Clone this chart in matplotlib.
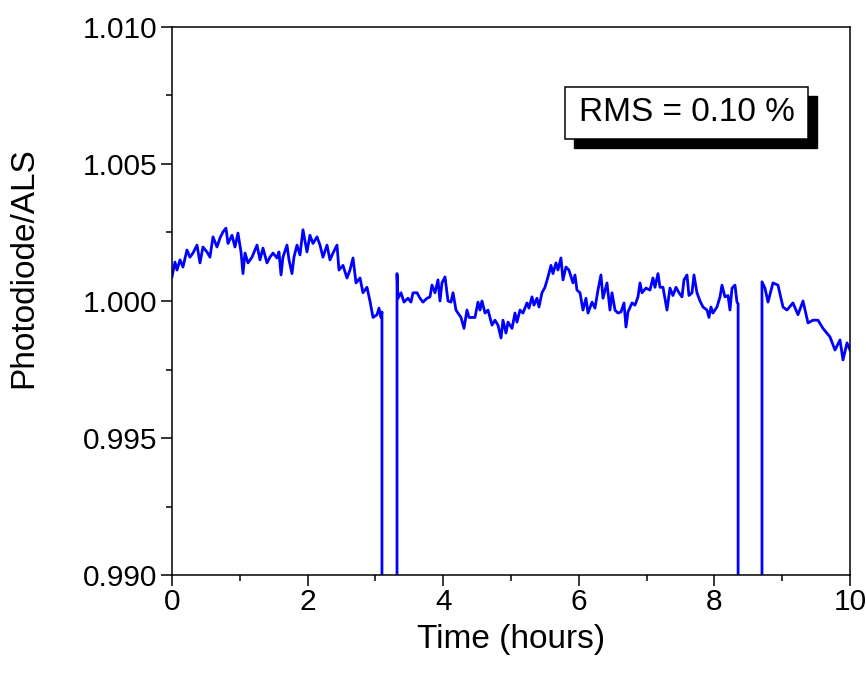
import matplotlib
matplotlib.use("Agg")
import matplotlib.pyplot as plt
from matplotlib.patches import Rectangle

plt.rcParams["font.family"] = ["Liberation Sans", "DejaVu Sans"]

# time in hours, photodiode/ALS ratio
hours = [
    0.000, 0.044, 0.074, 0.118, 0.162, 0.221, 0.265, 0.310, 0.369, 0.413,
    0.457, 0.516, 0.560, 0.605, 0.664, 0.708, 0.752, 0.796, 0.826, 0.885,
    0.929, 0.973, 1.018, 1.047, 1.077, 1.121, 1.180, 1.254, 1.298, 1.342,
    1.401, 1.445, 1.490, 1.549, 1.578, 1.608, 1.637, 1.696, 1.726, 1.770,
    1.799, 1.844, 1.888, 1.932, 1.991, 2.035, 2.080, 2.139, 2.183, 2.227,
    2.286, 2.330, 2.375, 2.434, 2.463, 2.522, 2.581, 2.625, 2.670, 2.714,
    2.773, 2.817, 2.876, 2.920, 2.965, 3.024, 3.053, 3.083, 3.097,
    3.097, 3.319, 3.319,
    3.333, 3.378, 3.422, 3.481, 3.525, 3.555, 3.614, 3.658, 3.702, 3.761,
    3.805, 3.835, 3.879, 3.923, 3.953, 3.982, 4.027, 4.071, 4.115, 4.145,
    4.189, 4.218, 4.263, 4.307, 4.351, 4.381, 4.425, 4.469, 4.513, 4.543,
    4.572, 4.617, 4.661, 4.720, 4.764, 4.808, 4.853, 4.882, 4.926, 4.956,
    5.015, 5.059, 5.088, 5.133, 5.177, 5.236, 5.265, 5.310, 5.339, 5.383,
    5.413, 5.457, 5.501, 5.546, 5.590, 5.619, 5.664, 5.693, 5.737, 5.767,
    5.811, 5.855, 5.914, 5.944, 5.973, 6.018, 6.062, 6.106, 6.136, 6.195,
    6.239, 6.283, 6.327, 6.357, 6.416, 6.445, 6.460, 6.490, 6.534, 6.578,
    6.622, 6.667, 6.696, 6.726, 6.785, 6.829, 6.873, 6.903, 6.932, 6.991,
    7.050, 7.094, 7.124, 7.168, 7.198, 7.242, 7.301, 7.345, 7.389, 7.434,
    7.478, 7.522, 7.552, 7.596, 7.625, 7.670, 7.699, 7.743, 7.788, 7.832,
    7.891, 7.920, 7.950, 7.979, 8.038, 8.083, 8.112, 8.156, 8.201, 8.230,
    8.260, 8.304, 8.333, 8.350,
    8.350, 8.702, 8.702,
    8.746, 8.791, 8.864, 8.938, 9.012, 9.071, 9.159, 9.233, 9.307, 9.381,
    9.454, 9.528, 9.602, 9.705, 9.779, 9.853, 9.897, 9.956, 10.000,
]
ratio = [
    1.00088, 1.00142, 1.00113, 1.00150, 1.00124, 1.00186, 1.00160, 1.00175, 1.00204, 1.00139,
    1.00197, 1.00179, 1.00160, 1.00234, 1.00197, 1.00230, 1.00252, 1.00266, 1.00210, 1.00240,
    1.00197, 1.00248, 1.00179, 1.00100, 1.00175, 1.00139, 1.00160, 1.00204, 1.00150, 1.00193,
    1.00139, 1.00160, 1.00175, 1.00157, 1.00179, 1.00095, 1.00160, 1.00204, 1.00150, 1.00100,
    1.00160, 1.00204, 1.00168, 1.00260, 1.00179, 1.00240, 1.00210, 1.00234, 1.00204, 1.00160,
    1.00204, 1.00150, 1.00175, 1.00204, 1.00113, 1.00130, 1.00084, 1.00113, 1.00157, 1.00066,
    1.00084, 1.00030, 1.00050, 1.00000, 0.99940, 0.99950, 0.99974, 0.99940, 0.99960,
    0.98500, 0.98500, 1.00100,
    1.00010, 1.00030, 0.99996, 1.00010, 0.99996, 1.00030, 1.00030, 1.00010, 0.99996, 1.00010,
    1.00015, 1.00058, 1.00030, 1.00077, 1.00000, 1.00066, 1.00088, 1.00000, 0.99996, 1.00030,
    0.99967, 0.99956, 0.99940, 0.99900, 0.99967, 0.99940, 0.99940, 0.99940, 0.99996, 0.99967,
    1.00000, 0.99956, 0.99967, 0.99912, 0.99930, 0.99912, 0.99865, 0.99930, 0.99883, 0.99923,
    0.99900, 0.99956, 0.99923, 0.99967, 0.99956, 0.99993, 0.99974, 1.00015, 0.99985, 1.00010,
    0.99978, 1.00030, 1.00050, 1.00088, 1.00130, 1.00100, 1.00139, 1.00113, 1.00157, 1.00077,
    1.00124, 1.00113, 1.00066, 1.00095, 1.00040, 1.00030, 0.99967, 1.00010, 0.99956, 0.99996,
    0.99974, 1.00040, 1.00095, 1.00010, 1.00066, 1.00000, 0.99967, 1.00030, 0.99967, 0.99956,
    0.99960, 0.99993, 0.99905, 0.99960, 0.99993, 0.99985, 1.00015, 1.00066, 1.00030, 1.00047,
    1.00040, 1.00084, 1.00050, 1.00100, 1.00050, 1.00050, 0.99967, 1.00047, 1.00020, 1.00050,
    1.00030, 1.00015, 1.00077, 1.00095, 1.00020, 1.00030, 1.00095, 1.00030, 1.00000, 0.99978,
    0.99967, 0.99940, 0.99978, 0.99956, 0.99978, 1.00015, 1.00058, 1.00015, 1.00020, 0.99967,
    1.00047, 1.00058, 0.99996, 0.99990,
    0.98500, 0.98500, 1.00070,
    1.00047, 0.99996, 1.00066, 1.00058, 0.99978, 0.99967, 0.99993, 0.99950, 1.00000, 0.99920,
    0.99930, 0.99930, 0.99900, 0.99869, 0.99821, 0.99858, 0.99785, 0.99847, 0.99821,
]

xticks = [0, 2, 4, 6, 8, 10]
yticks = [0.990, 0.995, 1.000, 1.005, 1.010]
rms_label = "RMS = 0.10 %"

fig = plt.figure(figsize=(8.66, 6.73), dpi=100)
ax = fig.add_axes([0.1986, 0.1456, 0.7829, 0.8143])

ax.plot(hours, ratio, color="#0000ff", linewidth=2.0)

ax.set_xlim(0, 10)
ax.set_ylim(0.990, 1.010)
ax.set_xticks(xticks)
ax.set_xticklabels([str(t) for t in xticks])
ax.set_yticks(yticks)
ax.set_yticklabels(["%.3f" % t for t in yticks])
ax.set_xticks([1, 3, 5, 7, 9], minor=True)
ax.set_yticks([0.9925, 0.9975, 1.0025, 1.0075], minor=True)
ax.tick_params(which="major", direction="out", length=8, width=1.1, labelsize=21.5)
ax.tick_params(which="minor", direction="out", length=4.5, width=1.1)
ax.tick_params(axis="x", pad=1.5)
ax.tick_params(axis="y", pad=2.5)
for s in ax.spines.values():
    s.set_linewidth(1.1)

ax.set_xlabel("Time (hours)", fontsize=24)
ax.xaxis.set_label_coords(0.5, -0.09)
ax.set_ylabel("Photodiode/ALS", fontsize=24)
ax.yaxis.set_label_coords(-0.196, 0.56)

# label box with drop shadow
bx, by, bw, bh = 0.580, 0.796, 0.358, 0.095
ax.add_patch(Rectangle((bx + 0.0133, by - 0.0164), bw, bh, transform=ax.transAxes,
                       facecolor="black", edgecolor="black", zorder=4))
ax.add_patch(Rectangle((bx, by), bw, bh, transform=ax.transAxes,
                       facecolor="white", edgecolor="black", linewidth=1.1, zorder=5))
ax.text(bx + bw / 2, by + bh / 2, rms_label, transform=ax.transAxes,
        ha="center", va="center", fontsize=24, zorder=6)

fig.savefig("out.png", dpi=100)
